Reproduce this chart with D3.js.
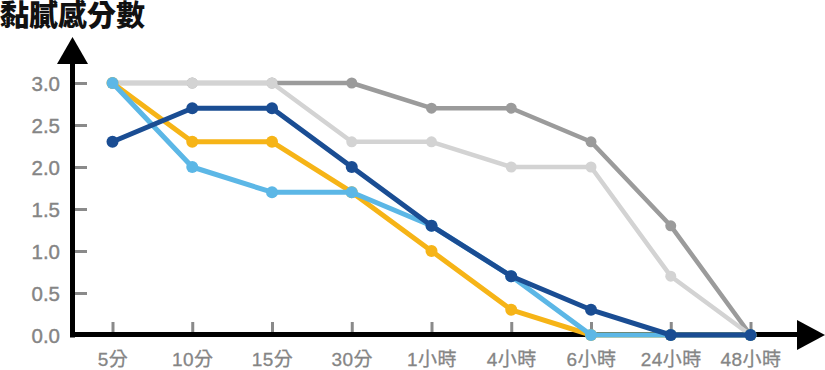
<!DOCTYPE html>
<html><head><meta charset="utf-8">
<script src="https://cdn.jsdelivr.net/npm/d3@7"></script>
<style>body{margin:0;background:#fff}svg{display:block}</style>
</head><body>
<svg id="c" width="825" height="370"></svg>
<script>
const categories = ["5分","10分","15分","30分","1小時","4小時","6小時","24小時","48小時"];
const yTicks = [0,0.5,1.0,1.5,2.0,2.5,3.0];
const darkGray  = [3,3,3,3,2.7,2.7,2.3,1.3,0];
const lightGray = [3,3,3,2.3,2.3,2.0,2.0,0.7,0];
const yellow    = [3,2.3,2.3,1.7,1.0,0.3,0,0,0];
const lightBlue = [3,2.0,1.7,1.7,1.3,0.7,0,0,0];
const darkBlue  = [2.3,2.7,2.7,2.0,1.3,0.7,0.3,0,0];
const title = "黏膩感分數";

const series = [
  {values: darkGray,  color:"#9b9b9b", w:4.5, r:5.5},
  {values: lightGray, color:"#d3d3d3", w:4.5, r:5.5},
  {values: yellow,    color:"#f6b417", w:5,   r:6},
  {values: lightBlue, color:"#5cb7e6", w:5,   r:6},
  {values: darkBlue,  color:"#1a4d93", w:5,   r:6}
];

const svg = d3.select("#c");
const x = d3.scalePoint().domain(categories).range([112.5, 750.5]);
const y = d3.scaleLinear().domain([0,3]).range([335, 83]);
const font = "'Liberation Sans','Noto Sans CJK TC',sans-serif";

// title
svg.append("text").attr("x",0).attr("y",26)
  .attr("font-family","'Noto Sans CJK TC',sans-serif").attr("font-weight",900)
  .attr("font-size",29).attr("fill","#111").text(title);

// y axis ticks & labels
const ya = svg.append("g").attr("transform","translate(75,0)")
  .call(d3.axisLeft(y).tickValues(yTicks).tickFormat(d3.format(".1f")).tickSize(-12).tickPadding(15));
ya.select(".domain").remove();
ya.selectAll("line").attr("stroke","#8a8a8a").attr("stroke-width",3);
ya.selectAll("text").attr("font-family",font).attr("font-weight","normal")
  .attr("font-size",20.5).attr("fill","#858585").attr("stroke","#858585").attr("stroke-width",0.4)
  .attr("dy","0.36em");

// x axis ticks & labels
const xa = svg.append("g").attr("transform","translate(0,333)")
  .call(d3.axisBottom(x).tickSize(-11));
xa.select(".domain").remove();
xa.selectAll("line").attr("stroke","#8a8a8a").attr("stroke-width",3);
xa.selectAll("text").attr("font-family",font)
  .attr("font-size",19).attr("fill","#858585").attr("stroke","#858585").attr("stroke-width",0.3)
  .attr("letter-spacing",0.5).attr("y",33).attr("dy",0);

// axis lines + arrows
const ax = 72.5, ay = y(0);
svg.append("line").attr("x1",ax).attr("x2",ax).attr("y1",60).attr("y2",ay+2.5)
  .attr("stroke","#000").attr("stroke-width",5);
svg.append("path").attr("d",`M${ax},37 L${ax-15.5},64 L${ax+15.5},64 Z`).attr("fill","#000");
svg.append("line").attr("x1",ax-2.5).attr("x2",800).attr("y1",ay-0.5).attr("y2",ay-0.5)
  .attr("stroke","#000").attr("stroke-width",5);
svg.append("path").attr("d",`M825,${ay} L797,${ay-15} L797,${ay+15} Z`).attr("fill","#000");

// series
const line = d3.line().x((d,i)=>x(categories[i])).y(d=>y(d));
series.forEach(s=>{
  const g = svg.append("g");
  g.append("path").datum(s.values).attr("d",line).attr("fill","none")
    .attr("stroke",s.color).attr("stroke-width",s.w).attr("stroke-linejoin","round");
  g.selectAll("circle").data(s.values).join("circle")
    .attr("cx",(d,i)=>x(categories[i])).attr("cy",d=>y(d)).attr("r",s.r).attr("fill",s.color);
});
</script>
</body></html>
